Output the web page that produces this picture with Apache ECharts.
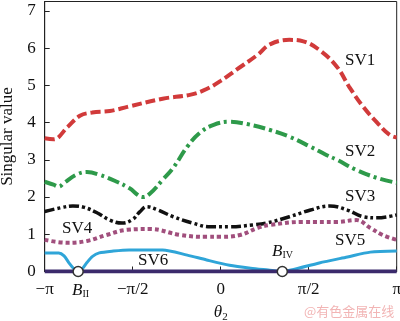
<!DOCTYPE html>
<html><head><meta charset="utf-8">
<script src="https://cdn.jsdelivr.net/npm/echarts@6/dist/echarts.min.js"></script>
<style>html,body{margin:0;padding:0;background:#fff}#c{width:400px;height:321px}</style>
</head><body><div id="c"></div>
<script>
// theta in units of pi
const xTicks = [-1, -0.5, 0, 0.5, 1];
const xTickLabels = ['−π', '−π/2', '0', 'π/2', 'π'];
const yTicks = [0, 1, 2, 3, 4, 5, 6, 7];
const sv1 = [[-1,3.58],[-0.95,3.55],[-0.87,3.88],[-0.8,4.18],[-0.73,4.27],[-0.63,4.31],[-0.53,4.42],[-0.33,4.64],[-0.17,4.75],[-0.08,4.9],[0,5.12],[0.09,5.42],[0.21,5.82],[0.28,6.1],[0.39,6.22],[0.47,6.18],[0.56,5.95],[0.66,5.5],[0.73,4.96],[0.81,4.42],[0.89,3.99],[0.96,3.67],[1,3.6]];
const sv2 = [[-1,2.41],[-0.95,2.33],[-0.92,2.28],[-0.89,2.38],[-0.82,2.6],[-0.76,2.67],[-0.69,2.6],[-0.59,2.41],[-0.52,2.24],[-0.44,2.0],[-0.40,2.1],[-0.33,2.46],[-0.27,2.78],[-0.19,3.35],[-0.12,3.72],[-0.04,3.94],[0.05,4.02],[0.15,3.96],[0.28,3.8],[0.39,3.62],[0.51,3.35],[0.6,3.13],[0.66,3.0],[0.77,2.73],[0.89,2.51],[1,2.38]];
const sv3 = [[-1,1.61],[-0.91,1.71],[-0.84,1.76],[-0.78,1.73],[-0.7,1.57],[-0.63,1.38],[-0.56,1.3],[-0.5,1.4],[-0.46,1.6],[-0.42,1.74],[-0.36,1.66],[-0.27,1.47],[-0.16,1.3],[-0.06,1.2],[0.05,1.2],[0.18,1.25],[0.26,1.3],[0.39,1.47],[0.51,1.65],[0.62,1.76],[0.72,1.65],[0.81,1.47],[0.89,1.44],[1,1.52]];
const sv4 = [[-1,0.85],[-0.87,0.77],[-0.76,0.82],[-0.65,0.98],[-0.53,1.12],[-0.4,1.14],[-0.23,0.98],[-0.08,0.93],[0,0.93],[0.11,0.98],[0.21,1.17],[0.28,1.25],[0.47,1.33],[0.66,1.33],[0.77,1.38],[0.85,1.17],[0.92,0.98],[1,0.85]];
const sv5 = [[-1,0.5],[-0.92,0.5],[-0.89,0.42],[-0.86,0.22],[-0.835,0.08],[-0.81,0],[-0.785,0.08],[-0.76,0.24],[-0.73,0.4],[-0.69,0.5],[-0.61,0.55],[-0.52,0.58],[-0.33,0.58],[-0.19,0.44],[-0.08,0.31],[0.05,0.17],[0.17,0.09],[0.27,0.04],[0.35,0],[0.42,0.06],[0.56,0.23],[0.72,0.39],[0.85,0.52],[1,0.55]];
const sv6 = [[-1,0],[1,0]];
const bPoints = [[-0.81,0],[0.35,0]];
const svLabels = ['SV1','SV2','SV3','SV4','SV5','SV6'];

const F = 'Liberation Serif';
const chart = echarts.init(document.getElementById('c'));
const lbl = (i, x, y) => ({type:'text', left:x, top:y, style:{text:svLabels[i], font:'17px "Liberation Serif"', fill:'#111'}});
chart.setOption({
  animation:false,
  grid:{left:44.7, right:3.3, top:1.5, bottom:49.5, show:true, borderColor:'#222', borderWidth:1, containLabel:false, outerBoundsMode:'none'},
  xAxis:{type:'value', min:-1, max:1, interval:0.5,
    axisLine:{onZero:false, lineStyle:{color:'#222', width:1}},
    axisTick:{inside:true, length:5, lineStyle:{color:'#222'}},
    splitLine:{show:false},
    axisLabel:{margin:10, fontFamily:F, fontSize:17, color:'#111',
      formatter:v=>{const i=xTicks.findIndex(t=>Math.abs(t-v)<1e-6);return i>=0?xTickLabels[i]:'';}},
    name:'{i|θ}{s|2}', nameLocation:'middle', nameGap:32,
    nameTextStyle:{rich:{i:{fontFamily:F,fontStyle:'italic',fontSize:17,color:'#111'},s:{fontFamily:F,fontSize:11,color:'#111',verticalAlign:'bottom',padding:[8,0,0,0]}}}},
  yAxis:{type:'value', min:0, max:7.25, interval:1,
    axisLine:{onZero:false, lineStyle:{color:'#222'}},
    axisTick:{inside:true, length:5, lineStyle:{color:'#222'}},
    splitLine:{show:false},
    axisLabel:{margin:9, fontFamily:F, fontSize:17, color:'#111',
      formatter:v=>yTicks.includes(v)?String(v):''},
    name:'Singular value', nameLocation:'middle', nameGap:24,
    nameTextStyle:{fontFamily:F, fontSize:17, color:'#111'}},
  series:[
    {type:'line', data:sv1, smooth:0.4, symbol:'none', lineStyle:{color:'#d13a3a', width:4, type:[10,4]}},
    {type:'line', data:sv2, smooth:0.4, symbol:'none', lineStyle:{color:'#2e9a4a', width:4, type:[12,4,3,4]}},
    {type:'line', data:sv3, smooth:0.4, symbol:'none', lineStyle:{color:'#111', width:3.5, type:[10,3,3,3,3,3]}},
    {type:'line', data:sv4, smooth:0.4, symbol:'none', lineStyle:{color:'#a14f7d', width:4, type:[4,3]}},
    {type:'line', data:sv5, smooth:0.25, symbol:'none', lineStyle:{color:'#2fa5d8', width:3}},
    {type:'line', data:sv6, symbol:'none', lineStyle:{color:'#3b2a6c', width:4}, z:3},
    {type:'scatter', data:bPoints, symbol:'circle', symbolSize:10, z:5, silent:true,
      itemStyle:{color:'#ffffff', opacity:1, borderColor:'#333', borderWidth:1.5}}
  ],
  graphic:[
    lbl(0,345,52), lbl(1,345,143), lbl(2,345,188), lbl(3,62,220), lbl(4,335,232), lbl(5,138,252),
    {type:'text', left:272, top:243, style:{rich:{b:{fontFamily:F,fontStyle:'italic',fontSize:17,fill:'#111'},s:{fontFamily:F,fontSize:10,fill:'#111',padding:[8,0,0,0]}}, text:'{b|B}{s|IV}'}},
    {type:'text', left:72, top:282, style:{rich:{b:{fontFamily:F,fontStyle:'italic',fontSize:17,fill:'#111'},s:{fontFamily:F,fontSize:10,fill:'#111',padding:[8,0,0,0]}}, text:'{b|B}{s|II}'}},
    {type:'text', left:304, top:305, style:{text:'@有色金属在线', font:'13px "Noto Sans CJK SC"', fill:'#f2b5b5'}}
  ]
});
</script></body></html>
